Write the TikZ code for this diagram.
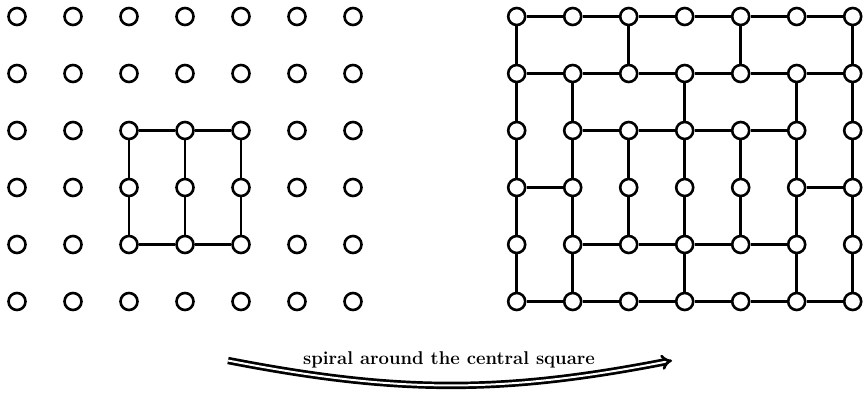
\documentclass[tikz,border=0pt]{standalone}
\usetikzlibrary{arrows.meta}

\begin{document}
\begin{tikzpicture}
 [x=1pt, y=1pt,
  dot/.style={circle, draw, line width=2.6pt, fill=white, minimum size=17pt, inner sep=0pt},
  link/.style={line width=2.5pt},
  spiral arrow/.style={double, line width=2.7pt, double distance=2pt, -{Implies[scale=1.2]}}]

\useasboundingbox (0,0) rectangle (867,393);

% the two grids of points
\foreach \c in {0,...,6}
  \foreach \r in {0,...,5} {
    \node[dot] (l\c\r) at (17+56*\c, 376.5-57*\r) {};
    \node[dot] (r\c\r) at (516.7+56*\c, 376.5-57*\r) {};
  }

% left: the central square
\path[link]
  (l22) edge (l32)  (l32) edge (l42)
  (l24) edge (l34)  (l34) edge (l44)
  (l22) edge (l23)  (l23) edge (l24)
  (l32) edge (l33)  (l33) edge (l34)
  (l42) edge (l43)  (l43) edge (l44);

% right: rows
\foreach \r in {0,1,5}
  \foreach \c [count=\n from 1] in {0,...,5}
    \draw[link] (r\c\r) -- (r\n\r);
\foreach \r in {2,4}
  \foreach \c [count=\n from 2] in {1,...,4}
    \draw[link] (r\c\r) -- (r\n\r);
\path[link]
  (r03) edge (r13)
  (r53) edge (r63);

% right: columns
\foreach \c in {0,2,4,6}
  \draw[link] (r\c0) -- (r\c1);
\foreach \c in {0,1,3,5,6} {
  \draw[link] (r\c1) -- (r\c2);
  \draw[link] (r\c4) -- (r\c5);
}
\foreach \c in {0,...,6} {
  \draw[link] (r\c2) -- (r\c3);
  \draw[link] (r\c3) -- (r\c4);
}

% the arrow between them
\coordinate (from) at (228,32.5);
\coordinate (to) at (672,32.5);
\draw[spiral arrow] (from) to[out=-11, in=-169] (to);
\node (lbl) [anchor=base] at (449,28) {\fontsize{18.5}{20}\selectfont\bfseries spiral around the central square};

\end{tikzpicture}
\end{document}
